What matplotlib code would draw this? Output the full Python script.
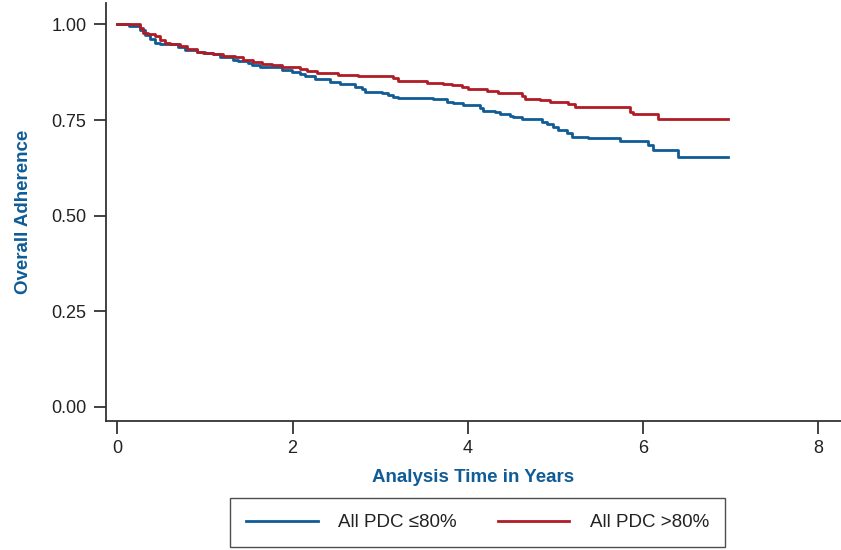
import matplotlib
matplotlib.use("Agg")
import matplotlib.pyplot as plt
from matplotlib import font_manager

# ---- data ----
t_low = [0.0, 0.134, 0.259, 0.316, 0.373, 0.430, 0.487, 0.564, 0.693, 0.773, 0.906, 1.001,
         1.092, 1.172, 1.210, 1.324, 1.381, 1.495, 1.534, 1.629, 1.877, 1.991, 2.086, 2.143,
         2.257, 2.428, 2.542, 2.713, 2.790, 2.828, 3.018, 3.094, 3.151, 3.208, 3.607, 3.760,
         3.836, 3.950, 4.140, 4.178, 4.312, 4.369, 4.483, 4.521, 4.616, 4.845, 4.902, 4.977,
         5.034, 5.130, 5.187, 5.377, 5.739, 6.062, 6.119, 6.404, 6.975]
s_low = [1.000, 0.996, 0.985, 0.972, 0.961, 0.952, 0.950, 0.948, 0.941, 0.933, 0.928, 0.925,
         0.922, 0.915, 0.914, 0.908, 0.904, 0.900, 0.895, 0.888, 0.880, 0.875, 0.870, 0.865,
         0.857, 0.850, 0.844, 0.837, 0.831, 0.824, 0.820, 0.815, 0.811, 0.808, 0.804, 0.798,
         0.795, 0.789, 0.782, 0.774, 0.770, 0.765, 0.760, 0.757, 0.752, 0.745, 0.739, 0.731,
         0.724, 0.715, 0.706, 0.702, 0.695, 0.684, 0.671, 0.654, 0.654]

t_high = [0.0, 0.259, 0.293, 0.350, 0.430, 0.487, 0.545, 0.602, 0.716, 0.792, 0.906, 0.982,
          1.092, 1.207, 1.344, 1.438, 1.553, 1.648, 1.763, 1.877, 2.086, 2.162, 2.276, 2.523,
          2.751, 3.151, 3.208, 3.539, 3.721, 3.817, 3.932, 4.007, 4.217, 4.349, 4.616, 4.654,
          4.826, 4.940, 5.148, 5.225, 5.853, 5.890, 6.176, 6.975]
s_high = [1.000, 0.990, 0.978, 0.974, 0.969, 0.959, 0.952, 0.948, 0.943, 0.937, 0.928, 0.926,
          0.922, 0.918, 0.914, 0.908, 0.901, 0.896, 0.893, 0.888, 0.883, 0.878, 0.873, 0.869,
          0.866, 0.859, 0.853, 0.848, 0.844, 0.841, 0.837, 0.831, 0.826, 0.820, 0.8125, 0.806,
          0.802, 0.796, 0.791, 0.783, 0.771, 0.765, 0.752, 0.752]

labels = ["All PDC \u226480%", "All PDC >80%"]
x_ticks = [0, 2, 4, 6, 8]
y_ticks = [0.0, 0.25, 0.50, 0.75, 1.00]
y_ticklabels = ["0.00", "0.25", "0.50", "0.75", "1.00"]

# ---- style ----
avail = {f.name for f in font_manager.fontManager.ttflist}
fam = [f for f in ["Liberation Sans Narrow", "Liberation Sans", "DejaVu Sans"] if f in avail]
plt.rcParams["font.family"] = fam + ["DejaVu Sans"]

BLUE = "#0f5c96"
RED = "#b01c25"
AX = "#333333"

fig = plt.figure(figsize=(8.41, 5.50), dpi=100)
ax = fig.add_axes([0.126, 0.2345, 0.874, 0.760])

ax.step(t_low, s_low, where="post", color=BLUE, lw=2.0, label=labels[0])
ax.step(t_high, s_high, where="post", color=RED, lw=2.0, label=labels[1])

ax.set_xlim(-0.129, 8.26)
ax.set_ylim(-0.037, 1.056)
ax.set_xticks(x_ticks)
ax.set_yticks(y_ticks)
ax.set_yticklabels(y_ticklabels)

for s in ["top", "right"]:
    ax.spines[s].set_visible(False)
for s in ["left", "bottom"]:
    ax.spines[s].set_color(AX)
    ax.spines[s].set_linewidth(1.3)
ax.tick_params(axis="both", direction="out", length=9, width=1.3, color=AX,
               labelsize=13, labelcolor="#222222", pad=5)

ax.set_xlabel("Analysis Time in Years", fontsize=13.5, fontweight="bold", color=BLUE, labelpad=8)
ax.set_ylabel("Overall Adherence", fontsize=13.5, fontweight="bold", color=BLUE, labelpad=14)

leg = fig.legend(loc="center", bbox_to_anchor=(0.568, 0.0495), ncol=2, frameon=True,
                 fancybox=False, edgecolor="#222222", fontsize=13.5, handlelength=3.8,
                 columnspacing=2.2, handletextpad=1.1, borderpad=0.85, borderaxespad=0)
leg.get_frame().set_linewidth(1.0)
for txt in leg.get_texts():
    txt.set_color("#222222")

fig.savefig("out.png", dpi=100)
